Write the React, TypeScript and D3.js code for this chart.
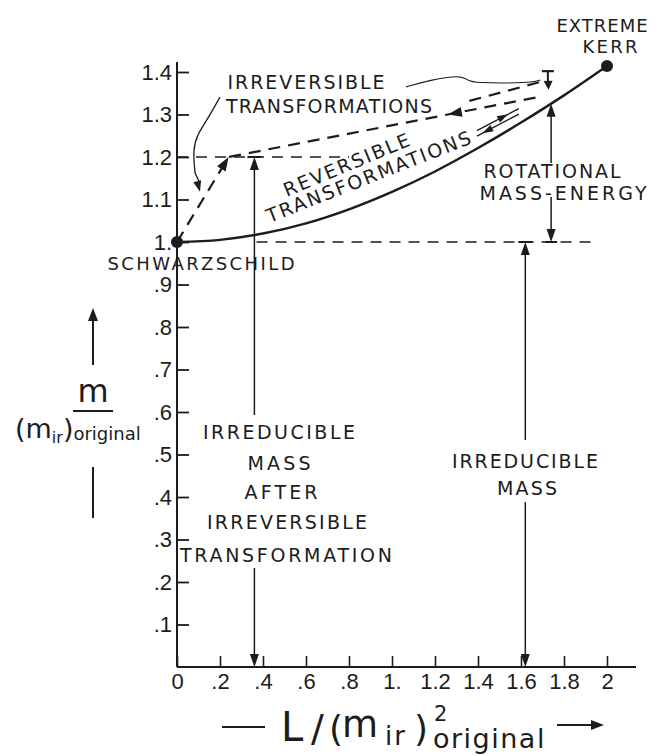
import React, { useEffect, useRef } from "react";
import * as d3 from "d3";

// axis ticks
const lTicks = [0, 0.2, 0.4, 0.6, 0.8, 1, 1.2, 1.4, 1.6, 1.8, 2];
const lTickLabels = ["0", ".2", ".4", ".6", ".8", "1.", "1.2", "1.4", "1.6", "1.8", "2"];
const mTicks = [0.1, 0.2, 0.3, 0.4, 0.5, 0.6, 0.7, 0.8, 0.9, 1, 1.1, 1.2, 1.3, 1.4];
const mTickLabels = [".1", ".2", ".3", ".4", ".5", ".6", ".7", ".8", ".9", "1.", "1.1", "1.2", "1.3", "1.4"];

// reversible transformations curve
const curveL = [0, 0.2, 0.4, 0.6, 0.8, 1, 1.2, 1.4, 1.6, 1.8, 2];
const curveM = [1.0, 1.005, 1.02, 1.044, 1.077, 1.118, 1.166, 1.221, 1.281, 1.345, 1.414];

// end states
const stateL = [0, 2];
const stateM = [1, 1.414];

// irreversible transformation path (dashed)
const irrevL = [0, 0.24, 1.26, 1.69];
const irrevM = [1, 1.2, 1.3, 1.342];
const irrevUpperL = [1.36, 1.7];
const irrevUpperM = [1.332, 1.378];

// dashed reference levels
const levelM = [1.2, 1];
const levelStartL = [0, 0.37];
const levelEndL = [0.8, 1.95];

// vertical mass markers
const markerL = [0.36, 1.62];
const markerTopM = [1.2, 1];
const markerGapLowM = [0.233, 0.388];
const markerGapHighM = [0.593, 0.534];
const rotationalL = 1.74;
const rotationalGapM = [1.106, 1.186];

// reversible back-and-forth arrows along the curve
const revArrowL = [1.395, 1.59];
const revArrowUpperM = [1.262, 1.314];
const revArrowLowerM = [1.249, 1.301];

// hand-drawn leaders to the "irreversible" label
const leaderLeftL = [0.2, 0.14, 0.093, 0.074, 0.084, 0.107];
const leaderLeftM = [1.341, 1.287, 1.252, 1.216, 1.162, 1.118];
const leaderTopL = [1.065, 1.177, 1.316, 1.353, 1.377, 1.642, 1.69];
const leaderTopM = [1.365, 1.381, 1.393, 1.381, 1.374, 1.374, 1.381];

const W = 658;
const H = 756;
const ink = "#1c1c1c";
const annFont = "'DejaVu Sans', sans-serif";
const tickFont = "'Liberation Sans', Arial, sans-serif";

const head = (tip: [number, number], from: [number, number], len = 11, half = 4.5) => {
  const dx = tip[0] - from[0];
  const dy = tip[1] - from[1];
  const d = Math.hypot(dx, dy) || 1;
  const ux = dx / d;
  const uy = dy / d;
  const bx = tip[0] - ux * len;
  const by = tip[1] - uy * len;
  return `M${tip[0]},${tip[1]}L${bx - uy * half},${by + ux * half}L${bx + uy * half},${by - ux * half}Z`;
};

const App = () => {
  const svgRef = useRef<SVGSVGElement>(null);

  useEffect(() => {
    const svg = d3.select(svgRef.current);
    svg.selectAll("*").remove();

    const x = d3.scaleLinear().domain([0, 2]).range([177, 607]);
    const y = d3.scaleLinear().domain([0, 1.4]).range([667, 72]);
    const P = (l: number, m: number): [number, number] => [x(l), y(m)];

    const seg = (a: [number, number], b: [number, number], w = 1.5, dash?: string) => {
      const s = svg.append("line")
        .attr("x1", a[0]).attr("y1", a[1]).attr("x2", b[0]).attr("y2", b[1])
        .attr("stroke", ink).attr("stroke-width", w);
      if (dash) s.attr("stroke-dasharray", dash);
      return s;
    };
    const arrow = (tip: [number, number], from: [number, number], len = 11, half = 4.5) =>
      svg.append("path").attr("d", head(tip, from, len, half)).attr("fill", ink);

    const note = (t: string, cx: number, cy: number, len: number, size = 19, rot = 0) => {
      const el = svg.append("text")
        .attr("x", cx).attr("y", cy)
        .attr("text-anchor", "middle")
        .attr("font-family", annFont)
        .attr("font-size", size)
        .attr("fill", ink)
        .attr("textLength", len)
        .attr("lengthAdjust", "spacing")
        .text(t);
      if (rot) el.attr("transform", `rotate(${rot},${cx},${cy})`);
    };

    // axis lines
    seg(P(0, 0), P(0, 1.4235), 2);
    seg(P(0, 0), P(2.135, 0), 2);

    const yAxis = d3.axisLeft(y)
      .tickValues(mTicks)
      .tickFormat((_, i) => mTickLabels[i])
      .tickSizeInner(-12)
      .tickSizeOuter(0)
      .tickPadding(5);
    const gy = svg.append("g").attr("transform", `translate(${x(0)},0)`).call(yAxis);
    gy.select(".domain").remove();
    gy.selectAll("line").attr("stroke", ink).attr("stroke-width", 1.8);
    gy.selectAll("text").attr("font-family", tickFont).attr("font-size", 22).attr("fill", ink);

    const xAxis = d3.axisBottom(x)
      .tickValues(lTicks)
      .tickFormat((_, i) => lTickLabels[i])
      .tickSizeInner(-11)
      .tickSizeOuter(0)
      .tickPadding(6);
    const gx = svg.append("g").attr("transform", `translate(0,${y(0)})`).call(xAxis);
    gx.select(".domain").remove();
    gx.selectAll("line").attr("stroke", ink).attr("stroke-width", 1.6);
    gx.selectAll("text").attr("font-family", tickFont).attr("font-size", 22).attr("fill", ink);

    // dashed reference levels
    levelM.forEach((m, i) => {
      seg(P(levelStartL[i], m), P(levelEndL[i], m), 1.6, "11 8");
    });

    // reversible curve
    const curvePts = curveL.map((l, i) => [l, curveM[i]] as [number, number]);
    const line = d3.line<[number, number]>()
      .x(d => x(d[0]))
      .y(d => y(d[1]))
      .curve(d3.curveMonotoneX);
    svg.append("path").attr("d", line(curvePts)).attr("fill", "none")
      .attr("stroke", ink).attr("stroke-width", 2.4);

    // irreversible path
    const irrevPts = irrevL.map((l, i) => [l, irrevM[i]] as [number, number]);
    svg.append("path").attr("d", d3.line<[number, number]>().x(d => x(d[0])).y(d => y(d[1]))(irrevPts))
      .attr("fill", "none").attr("stroke", ink).attr("stroke-width", 2.2).attr("stroke-dasharray", "12 8");
    const upperPts = irrevUpperL.map((l, i) => [l, irrevUpperM[i]] as [number, number]);
    svg.append("path").attr("d", d3.line<[number, number]>().x(d => x(d[0])).y(d => y(d[1]))(upperPts))
      .attr("fill", "none").attr("stroke", ink).attr("stroke-width", 2.2).attr("stroke-dasharray", "12 8");
    arrow(P(irrevL[1], irrevM[1]), P(irrevL[0], irrevM[0]), 14, 5);
    arrow(P(irrevL[2], irrevM[2]), P(irrevL[3], irrevM[3]), 14, 5);
    // small down arrow at the top of the irreversible region
    seg(P(1.725, 1.402), P(1.725, 1.372), 2);
    seg([x(1.725) - 6, y(1.402)], [x(1.725) + 6, y(1.402)], 2.2);
    arrow(P(1.728, 1.358), P(1.725, 1.39), 9, 4.5);

    // reversible back-and-forth arrows
    seg(P(revArrowL[0], revArrowUpperM[0]), P(revArrowL[1], revArrowUpperM[1]), 1.3);
    seg(P(revArrowL[0], revArrowLowerM[0]), P(revArrowL[1], revArrowLowerM[1]), 1.3);
    arrow(P(1.54, revArrowUpperM[0] + (revArrowUpperM[1] - revArrowUpperM[0]) * (1.54 - revArrowL[0]) / (revArrowL[1] - revArrowL[0])),
      P(revArrowL[0], revArrowUpperM[0]), 11, 3.5);
    arrow(P(1.42, revArrowLowerM[0] + (revArrowLowerM[1] - revArrowLowerM[0]) * (1.42 - revArrowL[0]) / (revArrowL[1] - revArrowL[0])),
      P(revArrowL[1], revArrowLowerM[1]), 11, 3.5);

    // leaders
    const leader = d3.line<[number, number]>().x(d => x(d[0])).y(d => y(d[1])).curve(d3.curveBasis);
    const leftPts = leaderLeftL.map((l, i) => [l, leaderLeftM[i]] as [number, number]);
    svg.append("path").attr("d", leader(leftPts.slice(0, -1))).attr("fill", "none")
      .attr("stroke", ink).attr("stroke-width", 1.3);
    seg(P(leaderLeftL[4], leaderLeftM[4]), P(leaderLeftL[5], leaderLeftM[5] + 0.02), 1.3);
    arrow(P(leaderLeftL[5], leaderLeftM[5]), P(leaderLeftL[4], leaderLeftM[4]), 11, 4);
    const topPts = leaderTopL.map((l, i) => [l, leaderTopM[i]] as [number, number]);
    svg.append("path").attr("d", leader(topPts)).attr("fill", "none")
      .attr("stroke", ink).attr("stroke-width", 1.1);

    // vertical irreducible-mass markers
    markerL.forEach((l, i) => {
      seg(P(l, markerTopM[i] - 0.01), P(l, markerGapHighM[i]), 1.5);
      seg(P(l, markerGapLowM[i]), P(l, 0.012), 1.5);
      arrow(P(l, markerTopM[i]), P(l, 0.5), 13, 4.5);
      arrow(P(l, 0), P(l, 0.5), 13, 4.5);
      seg([x(l) - 7, y(markerTopM[i])], [x(l) + 7, y(markerTopM[i])], 2);
    });

    // rotational mass-energy marker
    const topRot = 1.3255;
    seg(P(rotationalL, topRot - 0.01), P(rotationalL, rotationalGapM[1]), 1.5);
    seg(P(rotationalL, rotationalGapM[0]), P(rotationalL, 1.01), 1.5);
    arrow(P(rotationalL, topRot), P(rotationalL, 1.2), 13, 4.5);
    arrow(P(rotationalL, 1), P(rotationalL, 1.2), 13, 4.5);
    seg([x(rotationalL) - 6, y(1)], [x(rotationalL) + 6, y(1)], 2);

    // end-state dots
    stateL.forEach((l, i) => {
      svg.append("circle").attr("cx", x(l)).attr("cy", y(stateM[i])).attr("r", 6).attr("fill", ink);
    });

    // annotations
    note("EXTREME", 602, 32, 91, 18);
    note("KERR", 610, 53, 55, 18);
    note("IRREVERSIBLE", 306, 89, 157);
    note("TRANSFORMATIONS", 329, 113, 206);
    note("REVERSIBLE", 349, 171, 135, 19, -22.6);
    note("TRANSFORMATIONS", 371, 183, 218, 19, -21.5);
    note("ROTATIONAL", 552, 178, 137);
    note("MASS-ENERGY", 563, 200, 167);
    note("SCHWARZSCHILD", 201, 270, 187, 18);
    note("IRREDUCIBLE", 279, 439, 152);
    note("MASS", 279, 470, 63);
    note("AFTER", 281, 499, 73);
    note("IRREVERSIBLE", 287, 529, 160);
    note("TRANSFORMATION", 286, 562, 212);
    note("IRREDUCIBLE", 525, 468, 146);
    note("MASS", 527, 495, 60);

    // y-axis title
    seg([93, 365], [93, 318], 2);
    arrow([93, 308], [93, 365], 13, 5);
    svg.append("text").attr("x", 93).attr("y", 402).attr("text-anchor", "middle")
      .attr("font-family", annFont).attr("font-size", 32).attr("fill", ink).text("m");
    seg([73, 411], [113, 411], 2.2);
    const yt = svg.append("text").attr("x", 15).attr("y", 438)
      .attr("font-family", annFont).attr("fill", ink);
    yt.append("tspan").attr("font-size", 27).text("(m");
    yt.append("tspan").attr("font-size", 16).attr("dy", 5).text("ir");
    yt.append("tspan").attr("font-size", 27).attr("dy", -5).text(")");
    yt.append("tspan").attr("font-size", 18).attr("dy", 2).text("original");
    seg([93, 467], [93, 518], 2);

    // x-axis title
    seg([222, 727], [265, 727], 2.2);
    const xl = svg.append("text").attr("font-family", annFont).attr("fill", ink);
    xl.append("tspan").attr("x", 281).attr("y", 741).attr("font-size", 40).text("L");
    xl.append("tspan").attr("x", 311).attr("y", 741).attr("font-size", 38).text("/");
    xl.append("tspan").attr("x", 329).attr("y", 741).attr("font-size", 36).text("(");
    xl.append("tspan").attr("x", 342).attr("y", 737).attr("font-size", 37).text("m");
    xl.append("tspan").attr("x", 385).attr("y", 745).attr("font-size", 26)
      .attr("letter-spacing", 2).text("ir");
    xl.append("tspan").attr("x", 414).attr("y", 741).attr("font-size", 36).text(")");
    xl.append("tspan").attr("x", 434).attr("y", 721).attr("font-size", 21).text("2");
    xl.append("tspan").attr("x", 433).attr("y", 748).attr("font-size", 27)
      .attr("letter-spacing", 1.5).text("original");
    seg([557, 725], [592, 725], 2.2);
    arrow([604, 725], [557, 725], 13, 5);
  }, []);

  return (
    <svg
      ref={svgRef}
      width={W}
      height={H}
      style={{ position: "absolute", left: 0, top: 0, background: "#fff" }}
    />
  );
};

export default App;
